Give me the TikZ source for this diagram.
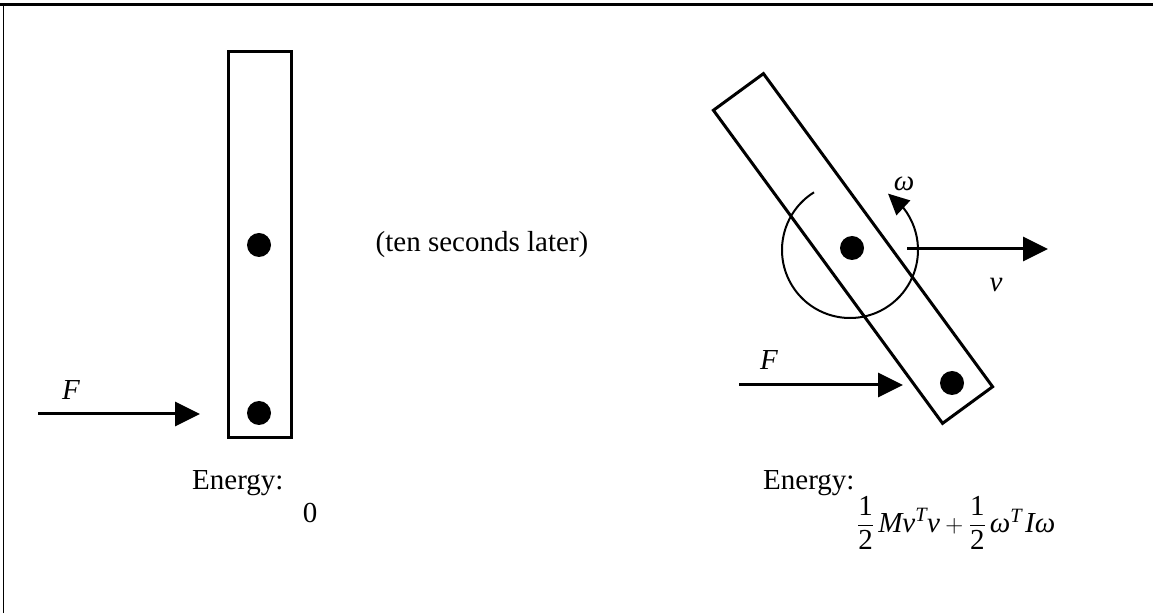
\documentclass[tikz,border=0pt]{standalone}
\usepackage{amsmath}
\usepackage{fontspec}
\setmainfont{Liberation Serif}
\usetikzlibrary{arrows.meta,calc}
\tikzset{
  txt/.style={inner sep=0pt, font=\fontsize{29}{34}\selectfont},
  bar/.style={draw, line width=3pt, inner sep=0pt, fill=white},
  dot/.style={circle, fill=black, minimum size=24pt, inner sep=0pt},
  force/.style={line width=3pt, -{Triangle[length=25pt,width=24pt]}},
  spin/.style={line width=2pt, -{Triangle[length=21pt,width=20pt]}},
}
\begin{document}
\begin{tikzpicture}[x=1pt,y=1pt]
\useasboundingbox (0,0) rectangle (1153,613);
% frame
\draw[line width=3pt] (0,608.3) -- (1153,608.3);
\draw[line width=1.8pt] (3.5,0) -- (3.5,609.8);
% left bar
\node[bar, minimum width=63pt, minimum height=386pt] (lbar) at (259.5,368) {};
\node[dot] (ldot1) at (259,368) {};
\node[dot] (ldot2) at (259,200) {};
\coordinate (lfs) at (38,199);
\coordinate (lft) at (200,199);
\draw[force] (lfs) -- (lft);
\node[txt] (lF) at (71,223) {\textit{F}};
\node[txt, anchor=base west] (lE) at (192,123) {Energy:};
\node[txt, anchor=base] (lzero) at (310,91) {0};
% middle
\node[txt] (later) at (482,368) {(ten seconds later)};
% right bar
\node[bar, fill=none, minimum width=388pt, minimum height=62pt, rotate=-53.8] (rbar) at (853,364.5) {};
\node[dot] (rdot1) at (852,365) {};
\node[dot] (rdot2) at (952,230) {};
\coordinate (arcc) at (850,363);
\coordinate (arctip) at ($(arcc)+(56:68)$);
\draw[spin] (arcc) ++(122:68) arc[start angle=122, end angle=398, radius=68] -- (arctip);
\node[txt] (om) at (904,429) {\textit{ω}};
\coordinate (vs) at (907,364);
\coordinate (vt) at (1048,364);
\draw[force] (vs) -- (vt);
\node[txt] (vl) at (996,328) {\textit{v}};
\coordinate (rfs) at (739,228);
\coordinate (rft) at (903,228);
\draw[force] (rfs) -- (rft);
\node[txt] (rF) at (769,253) {\textit{F}};
\node[txt, anchor=base west] (rE) at (763,123) {Energy:};
\node[txt, anchor=base west] (form) at (857,81) {$\dfrac{\text{1}}{\text{2}}\,\textit{Mv}^{\textit{T}}\textit{v}+\dfrac{\text{1}}{\text{2}}\,\textit{ω}^{\textit{T}}\hspace{3pt}\textit{Iω}$};
\end{tikzpicture}
\end{document}
